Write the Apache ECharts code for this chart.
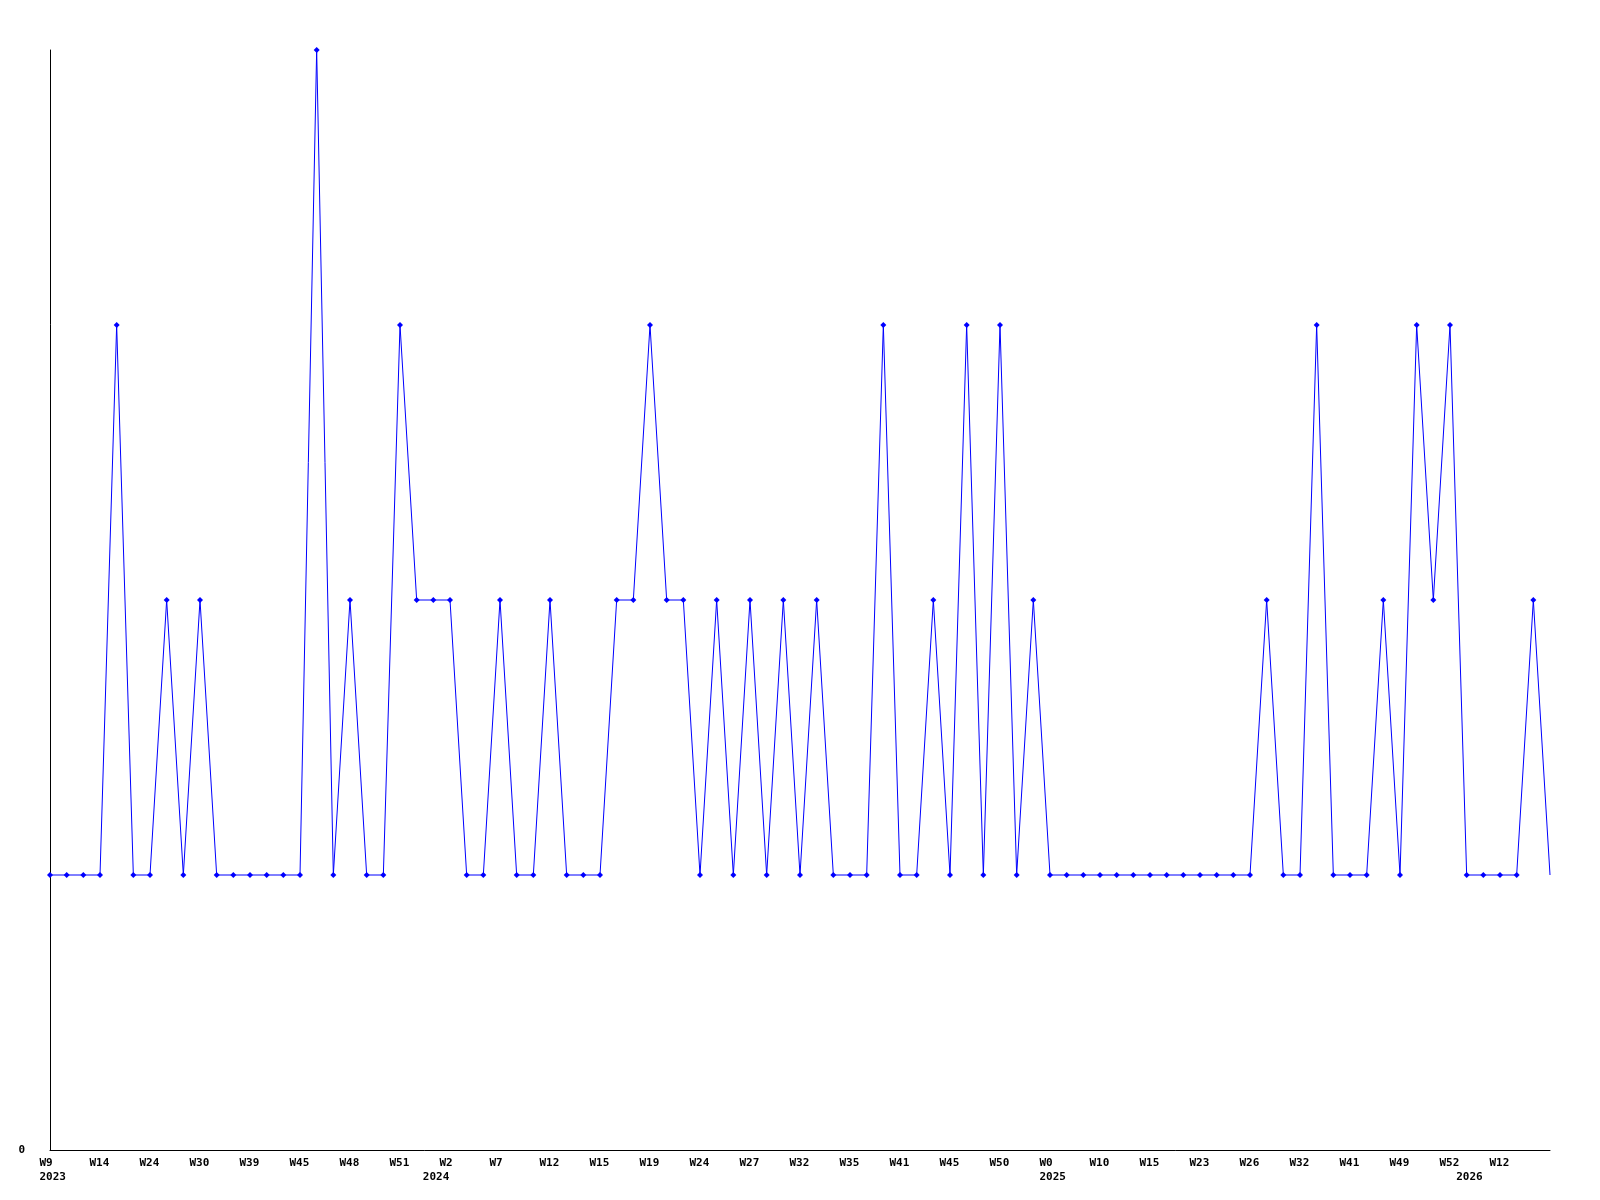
<!DOCTYPE html>
<html>
<head>
<meta charset="utf-8">
<script src="https://cdn.jsdelivr.net/npm/echarts@6/dist/echarts.min.js"></script>
<style>
  html, body { margin: 0; padding: 0; background: #fff; }
  #chart { width: 1600px; height: 1200px; }
</style>
</head>
<body>
<div id="chart"></div>
<script>
// one value per week sample (levels 1..4)
const counts = [
  1, 1, 1, 1, 3, 1, 1, 2, 1, 2,
  1, 1, 1, 1, 1, 1, 4, 1, 2, 1,
  1, 3, 2, 2, 2, 1, 1, 2, 1, 1,
  2, 1, 1, 1, 2, 2, 3, 2, 2, 1,
  2, 1, 2, 1, 2, 1, 2, 1, 1, 1,
  3, 1, 1, 2, 1, 3, 1, 3, 1, 2,
  1, 1, 1, 1, 1, 1, 1, 1, 1, 1,
  1, 1, 1, 2, 1, 1, 3, 1, 1, 1,
  2, 1, 3, 2, 3, 1, 1, 1, 1, 2,
  1
]

// week labels, shown on every third sample
const weekLabels = [
  'W9', 'W14', 'W24', 'W30', 'W39', 'W45', 'W48', 'W51', 'W2', 'W7',
  'W12', 'W15', 'W19', 'W24', 'W27', 'W32', 'W35', 'W41', 'W45', 'W50',
  'W0', 'W10', 'W15', 'W23', 'W26', 'W32', 'W41', 'W49', 'W52', 'W12'
]

// year labels and the sample each one sits under
const yearLabels = ['2023', '2024', '2025', '2026']
const yearIndex = [0, 23, 60, 85]

const categories = counts.map((v, i) => String(i))
const seriesData = counts.map((v, i) =>
  i === counts.length - 1 ? { value: v, symbol: 'none' } : v
)

const labelFont = {
  fontFamily: 'DejaVu Sans Mono',
  fontWeight: 'bold',
  fontSize: 11,
  color: '#000'
}
const richBox = { b: Object.assign({ width: 21, align: 'left' }, labelFont) }

const chart = echarts.init(document.getElementById('chart'), null, { renderer: 'canvas' })

chart.setOption({
  animation: false,
  backgroundColor: '#fff',
  grid: { left: 50, right: 50, top: 50, bottom: 50, containLabel: false },
  xAxis: [
    {
      type: 'category',
      data: categories,
      boundaryGap: false,
      axisLine: { show: true, lineStyle: { color: '#000', width: 1 } },
      axisTick: { show: false },
      splitLine: { show: false },
      axisLabel: {
        interval: 2,
        margin: 8,
        formatter: (v, idx) => {
          const t = weekLabels[idx / 3]
          return t ? '{b|' + t + '}' : ''
        },
        rich: richBox
      }
    },
    {
      type: 'category',
      data: categories,
      boundaryGap: false,
      position: 'bottom',
      offset: 14,
      axisLine: { show: false },
      axisTick: { show: false },
      splitLine: { show: false },
      axisLabel: {
        interval: (idx) => yearIndex.indexOf(idx) >= 0,
        margin: 8,
        formatter: (v, idx) => {
          const k = yearIndex.indexOf(idx)
          return k >= 0 ? '{b|' + yearLabels[k] + '}' : ''
        },
        rich: richBox
      }
    }
  ],
  yAxis: {
    type: 'value',
    min: 0,
    max: 4,
    interval: 1,
    axisLine: { show: true, lineStyle: { color: '#000', width: 1 } },
    axisTick: { show: false },
    splitLine: { show: false },
    axisLabel: Object.assign({
      margin: 25,
      formatter: (v) => (v === 0 ? '0' : '')
    }, labelFont)
  },
  series: [
    {
      type: 'line',
      xAxisIndex: 0,
      data: seriesData,
      symbol: 'diamond',
      symbolSize: 6,
      showAllSymbol: true,
      clip: false,
      lineStyle: { color: '#0000ff', width: 1 },
      itemStyle: { color: '#0000ff' }
    }
  ]
})
</script>
</body>
</html>
